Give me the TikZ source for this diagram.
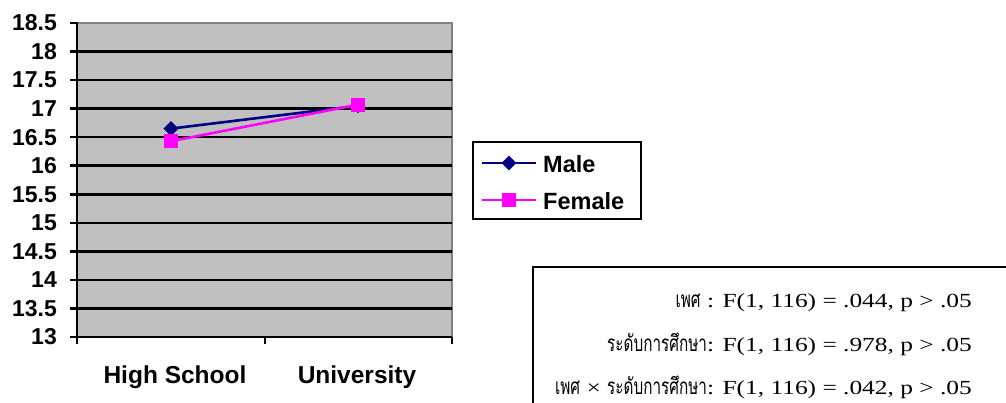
\documentclass[tikz,border=0pt]{standalone}
\usepackage{fontspec}
\usepackage{graphicx}
\setmainfont{Liberation Serif}
\setsansfont{Liberation Sans}
\newfontfamily\thaifont[Script=Thai]{Loma}
\newcommand{\thtxt}[1]{\scalebox{0.68}[1]{\thaifont\fontsize{22.5}{22.5}\selectfont #1}}
\newcommand{\lttxt}[1]{\scalebox{1.27}[1]{#1}}
\definecolor{plotgray}{HTML}{C0C0C0}
\definecolor{bordergray}{HTML}{808080}
\definecolor{malec}{HTML}{000080}
\definecolor{femalec}{HTML}{FF00FF}
\usetikzlibrary{shapes.geometric}
\tikzset{
  gridline/.style={black, line width=2.6pt},
  axisline/.style={black, line width=2.6pt},
  ylab/.style={anchor=east, font=\sffamily\bfseries\fontsize{23}{23}\selectfont, inner sep=0pt},
  xlab/.style={anchor=base, font=\sffamily\bfseries\fontsize{24.5}{24.5}\selectfont, inner sep=0pt},
  leglab/.style={anchor=west, font=\sffamily\bfseries\fontsize{23.5}{23.5}\selectfont, inner sep=0pt},
  malemark/.style={fill=malec, draw=none, diamond, minimum size=15pt, inner sep=0pt},
  femalemark/.style={fill=femalec, draw=none, rectangle, minimum size=14pt, inner sep=0pt},
  maleline/.style={malec, line width=2.6pt},
  femaleline/.style={femalec, line width=2.6pt},
  stat/.style={anchor=base east, inner sep=0pt, font=\fontsize{20}{20}\selectfont},
}
\begin{document}
\begin{tikzpicture}[x=1pt,y=-1pt]
\useasboundingbox (0,0) rectangle (1006,403);
% plot area
\fill[plotgray] (77,23) rectangle (452,337);
\draw[bordergray, line width=1.5pt] (77,23) -- (452,23) -- (452,337);
% grid lines
\foreach \v in {13.5,14,...,18} {
  \pgfmathsetmacro\yy{337-(\v-13)*57.09}
  \draw[gridline] (77,\yy) -- (452,\yy);
}
% axes
\draw[axisline] (77,22) -- (77,337) -- (452,337);
\foreach \v/\t in {13/13,13.5/13.5,14/14,14.5/14.5,15/15,15.5/15.5,16/16,16.5/16.5,17/17,17.5/17.5,18/18,18.5/18.5} {
  \pgfmathsetmacro\yy{337-(\v-13)*57.09}
  \draw[axisline] (70,\yy) -- (77,\yy);
  \node[ylab] (y\t) at (57,\yy) {\t};
}
\foreach \xx in {77,265,452} {
  \draw[axisline] (\xx,337) -- (\xx,344);
}
\node[xlab] (hs) at (175,383) {High School};
\node[xlab] (un) at (357,383) {University};
% data
\coordinate (mhs) at (171,128.6);
\coordinate (mun) at (358,105.8);
\coordinate (fhs) at (171,141.2);
\coordinate (fun) at (358,104.6);
\draw[maleline] (mhs) -- (mun);
\node[malemark] (mhsm) at (mhs) {};
\node[malemark] (munm) at (mun) {};
\draw[femaleline] (fhs) -- (fun);
\node[femalemark] (fhsm) at (fhs) {};
\node[femalemark] (funm) at (fun) {};
% legend
\draw[black, line width=2.6pt] (473,142) rectangle (641,219);
\coordinate (lm1) at (482,163);
\coordinate (lm2) at (536,163);
\draw[maleline] (lm1) -- (lm2);
\node[malemark] (lmm) at (509,163) {};
\node[leglab] (lml) at (543,164) {Male};
\coordinate (lf1) at (482,200);
\coordinate (lf2) at (536,200);
\draw[femaleline] (lf1) -- (lf2);
\node[femalemark] (lfm) at (509,200) {};
\node[leglab] (lfl) at (543,201) {Female};
% stats box
\draw[black, line width=2.6pt] (1010,267) -- (533,267) -- (533,410);
\node[stat] (s1) at (972,307) {\thtxt{เพศ}\lttxt{ : F(1, 116) = .044, p {\textgreater} .05}};
\node[stat] (s2) at (972,351) {\thtxt{ระดับการศึกษา}\lttxt{: F(1, 116) = .978, p {\textgreater} .05}};
\node[stat] (s3) at (972,394) {\thtxt{เพศ}\lttxt{ × }\thtxt{ระดับการศึกษา}\lttxt{: F(1, 116) = .042, p {\textgreater} .05}};
\end{tikzpicture}
\end{document}
